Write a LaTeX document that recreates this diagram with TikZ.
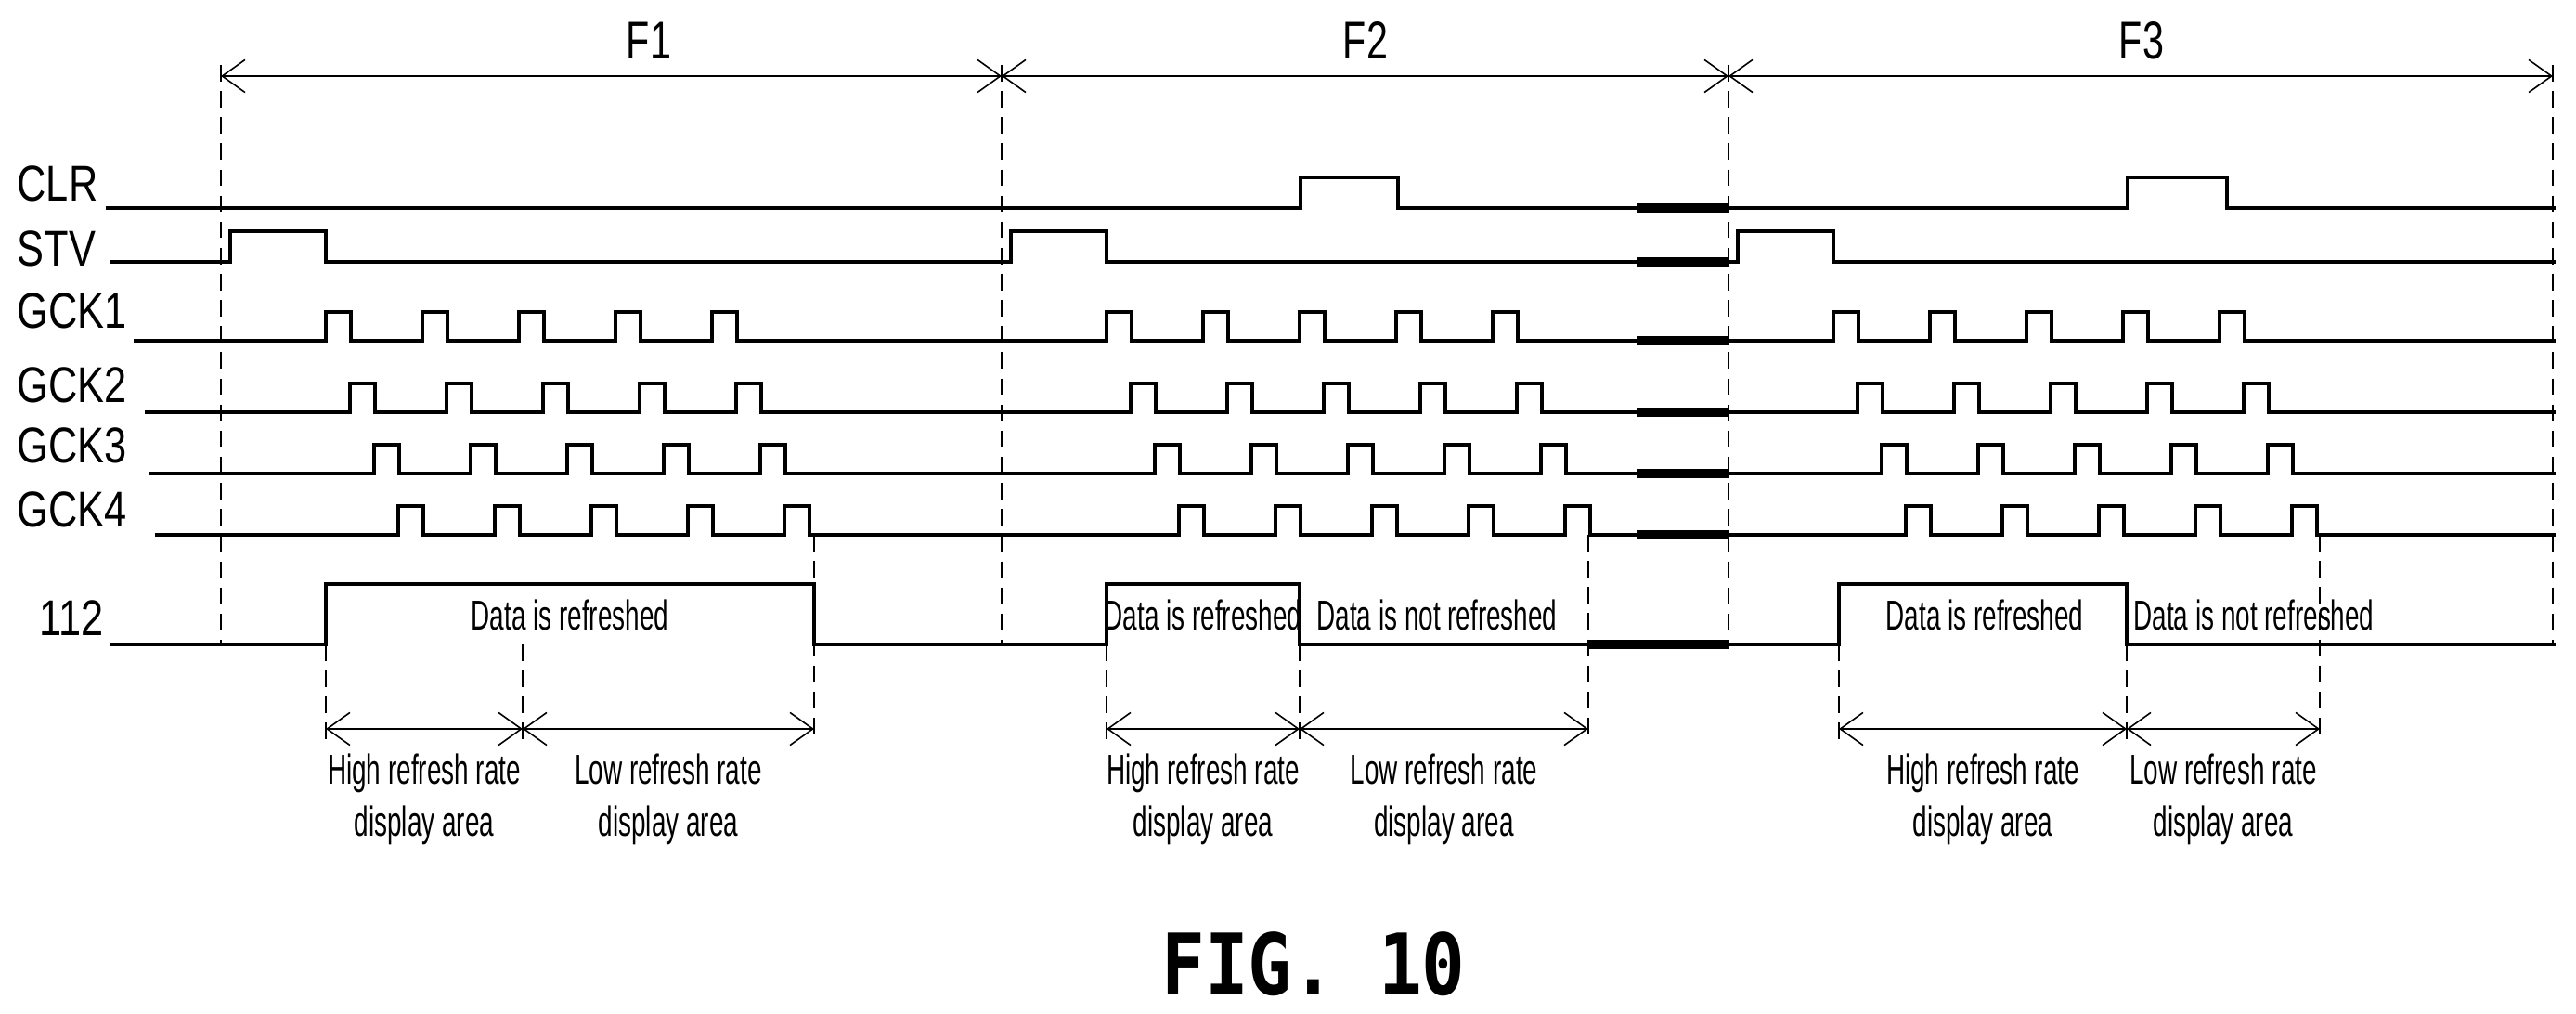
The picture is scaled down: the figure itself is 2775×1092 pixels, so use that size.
\documentclass[tikz,border=0pt]{standalone}
\usepackage{fontspec}
\setmainfont{Liberation Sans}
\newfontfamily\figfont{DejaVu Sans Mono}
\usetikzlibrary{arrows.meta}
\newcommand\narr[2]{\scalebox{#1}[1]{#2}}
\begin{document}
\begin{tikzpicture}[x=0.01cm,y=-0.01cm,
  sig/.style={line width=1.35pt,line join=miter},
  brk/.style={line width=2.8pt},
  dsh/.style={line width=0.4pt,dash pattern=on 5pt off 3pt},
  dim/.style={line width=0.45pt,{Straight Barb[length=7pt,width=10pt]}-{Straight Barb[length=7pt,width=10pt]}},
  lab/.style={font=\fontsize{15.4}{16}\selectfont,inner sep=0pt,anchor=west},
  small/.style={font=\fontsize{12.8}{14}\selectfont,inner sep=0pt},
  ftxt/.style={font=\fontsize{16.3}{18}\selectfont,inner sep=0pt}]
\useasboundingbox (0,0) rectangle (2775,1092);
% frame boundaries
\coordinate (d0) at (238,82); \coordinate (d1) at (1079,82);
\coordinate (d2) at (1862,82); \coordinate (d3) at (2750,82);
\foreach \x in {238,1079,1862,2750} \draw[dsh] (\x,70) -- (\x,694);
\draw[dim] (d0) -- (d1); \draw[dim] (d1) -- (d2); \draw[dim] (d2) -- (d3);
\node[ftxt] (F1) at (699,44) {\narr{0.72}{F1}};
\node[ftxt] (F2) at (1471,44) {\narr{0.72}{F2}};
\node[ftxt] (F3) at (2307,44) {\narr{0.72}{F3}};
% labels
\node[lab] (lCLR) at (18,198) {\narr{0.8}{CLR}};
\node[lab] (lSTV) at (18,268) {\narr{0.8}{STV}};
\node[lab] (lG1) at (18,335) {\narr{0.8}{GCK1}};
\node[lab] (lG2) at (18,415) {\narr{0.8}{GCK2}};
\node[lab] (lG3) at (18,480) {\narr{0.8}{GCK3}};
\node[lab] (lG4) at (18,549) {\narr{0.8}{GCK4}};
\node[lab] (l112) at (42,666) {\narr{0.8}{112}};
% CLR
\draw[sig] (114,224) -- (1401,224) -- ++(0,-33) -- ++(105,0) -- ++(0,33) -- (2292,224) -- ++(0,-33) -- ++(107,0) -- ++(0,33) -- (2753,224);
% STV
\draw[sig] (119,282) foreach \D in {238,1079,1862} { -- (\D+10,282) -- ++(0,-33) -- ++(103,0) -- ++(0,33) } -- (2753,282);
% GCK
\foreach \y/\o/\s in {367/0/144, 444/26/156, 510/52/161, 576/78/167}{
  \draw[sig] (\s,\y) foreach \D in {238,1079,1862} { foreach \k in {0,...,4} { -- (\D+113+\o+\k*104,\y) -- ++(0,-31) -- ++(27,0) -- ++(0,31) } } -- (2753,\y);
  \draw[brk] (1763,\y) -- (1863,\y);
}
\draw[brk] (1763,224) -- (1863,224);
\draw[brk] (1763,282) -- (1863,282);
% 112
\draw[sig] (118,694) -- (351,694) -- (351,629) -- (877,629) -- (877,694) -- (1192,694) -- (1192,629) -- (1400,629) -- (1400,694) -- (1981,694) -- (1981,629) -- (2291,629) -- (2291,694) -- (2753,694);
\draw[brk] (1711,694) -- (1863,694);
\node[small] (r1) at (614,662) {\narr{0.62}{Data is refreshed}};
\node[small] (r2) at (1296,662) {\narr{0.62}{Data is refreshed}};
\node[small] (n2) at (1548,662) {\narr{0.62}{Data is not refreshed}};
\node[small] (r3) at (2138,662) {\narr{0.62}{Data is refreshed}};
\node[small] (n3) at (2428,662) {\narr{0.62}{Data is not refreshed}};
% lower dashed
\foreach \x in {351,563,1192,1400,1981,2291} \draw[dsh] (\x,694) -- (\x,800);
\foreach \x in {877,1711,2499} \draw[dsh] (\x,576) -- (\x,800);
% dimension arrows
\foreach \a/\b/\c in {351/563/877,1192/1400/1711,1981/2291/2499}{
  \coordinate (p\a) at (\a,785); \coordinate (q\a) at (\b,785); \coordinate (s\a) at (\c,785);
  \draw[dim] (p\a) -- (q\a); \draw[dim] (q\a) -- (s\a);
  \node[small,align=center] at ({(\a+\b)/2},861) {\narr{0.62}{High refresh rate}\\[2pt]\narr{0.62}{display area}};
  \node[small,align=center] at ({(\b+\c)/2},861) {\narr{0.62}{Low refresh rate}\\[2pt]\narr{0.62}{display area}};
}
\node[inner sep=0pt,font=\figfont\bfseries\fontsize{26}{28}\selectfont] (fig) at (1415,1038) {\narr{0.85}{FIG. 10}};
\end{tikzpicture}
\end{document}
